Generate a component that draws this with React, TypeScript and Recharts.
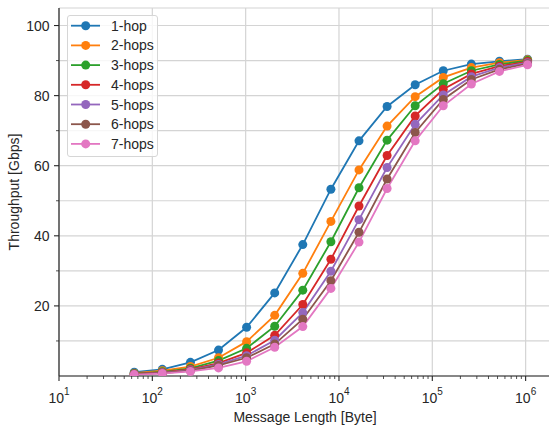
import React from 'react';
import { LineChart, Line, XAxis, YAxis, CartesianGrid, Legend, Label } from 'recharts';

const sizes = [64, 128, 256, 512, 1024, 2048, 4096, 8192, 16384, 32768, 65536, 131072, 262144, 524288, 1048576];
const hop1 = [1.1, 1.9, 3.9, 7.4, 13.9, 23.7, 37.5, 53.3, 67.1, 76.9, 83.1, 87.1, 89.0, 89.8, 90.4];
const hop2 = [0.8, 1.5, 2.7, 5.2, 9.8, 17.3, 29.3, 44.1, 58.8, 71.3, 79.7, 85.2, 88.0, 89.4, 90.2];
const hop3 = [0.7, 1.2, 2.2, 4.4, 7.9, 14.2, 24.5, 38.3, 53.7, 67.3, 77.1, 83.4, 87.1, 88.9, 90.0];
const hop4 = [0.6, 1.0, 1.9, 3.7, 6.6, 11.6, 20.4, 33.3, 48.5, 62.9, 74.2, 81.8, 86.2, 88.4, 89.7];
const hop5 = [0.5, 0.9, 1.7, 3.3, 5.8, 10.2, 18.1, 29.9, 44.6, 59.5, 71.8, 80.2, 85.4, 88.0, 89.4];
const hop6 = [0.5, 0.8, 1.5, 3.0, 5.2, 9.1, 16.2, 27.2, 41.0, 56.2, 69.5, 78.9, 84.6, 87.5, 89.1];
const hop7 = [0.4, 0.7, 1.3, 2.3, 4.2, 8.2, 14.1, 25.0, 38.2, 53.5, 67.1, 77.1, 83.3, 86.9, 88.8];

const seriesNames = ['1-hop', '2-hops', '3-hops', '4-hops', '5-hops', '6-hops', '7-hops'];
const seriesKeys = ['h1', 'h2', 'h3', 'h4', 'h5', 'h6', 'h7'];
const seriesValues = [hop1, hop2, hop3, hop4, hop5, hop6, hop7];
const colors = ['#1f77b4', '#ff7f0e', '#2ca02c', '#d62728', '#9467bd', '#8c564b', '#e377c2'];

const xMajorTicks = [10, 100, 1000, 10000, 100000, 1000000];
const xMinorMultipliers = [2, 3, 4, 5, 6, 7, 8, 9];
const xMinorTicks = xMajorTicks.slice(0, 5).flatMap((d) => xMinorMultipliers.map((m) => d * m));
const xAllTicks = [...xMajorTicks, ...xMinorTicks].sort((a, b) => a - b);
const xDomain = [10, 1780000];

const yTicks = [10, 20, 30, 40, 50, 60, 70, 80, 90, 100];
const yLabelTicks = [20, 40, 60, 80, 100];
const yDomain = [0, 105];

const xLabel = 'Message Length [Byte]';
const yLabel = 'Throughput [Gbps]';

const data = sizes.map((s, i) => {
  const row: any = { size: s };
  seriesKeys.forEach((k, j) => {
    row[k] = seriesValues[j][i];
  });
  return row;
});

const FONT = '"Liberation Sans", Arial, Helvetica, sans-serif';
const INK = '#262626';
const FS = 14;

const XTick = (props: any) => {
  const { x, y, payload } = props;
  const v = payload.value;
  const lg = Math.log10(v);
  const exp = Math.round(lg);
  const major = Math.abs(lg - exp) < 1e-9;
  return (
    <g>
      <line x1={x} x2={x} y1={y} y2={y + (major ? 5 : 3)} stroke={INK} strokeWidth={major ? 1.1 : 0.8} />
      {major && (
        <text x={x} y={y + 27} textAnchor="middle" fontSize={FS} fill={INK} fontFamily={FONT}>
          <tspan>10</tspan>
          <tspan dy={-8.5} fontSize={10}>{exp}</tspan>
        </text>
      )}
    </g>
  );
};

const YTick = (props: any) => {
  const { x, y, payload } = props;
  const v = payload.value;
  const major = yLabelTicks.includes(v);
  return (
    <g>
      <line x1={x - (major ? 5 : 3)} x2={x} y1={y} y2={y} stroke={INK} strokeWidth={major ? 1.1 : 0.8} />
      {major && (
        <text x={x - 9.5} y={y} dy="0.36em" textAnchor="end" fontSize={FS} fill={INK} fontFamily={FONT}>
          {v}
        </text>
      )}
    </g>
  );
};

const renderLegend = (props: any) => {
  const payload = props.payload || [];
  return (
    <div
      style={{
        width: 91,
        height: 142,
        boxSizing: 'border-box',
        border: '1px solid #d6d6d6',
        borderRadius: 3,
        background: 'rgba(255,255,255,0.8)',
      }}
    >
      <svg width={89} height={140} style={{ display: 'block' }}>
        {payload.map((p: any, i: number) => {
          const cy = 9.7 + i * 19.7;
          return (
            <g key={i}>
              <line x1={3} x2={32} y1={cy} y2={cy} stroke={p.color} strokeWidth={1.8} />
              <circle cx={17.7} cy={cy} r={4.5} fill={p.color} />
              <text x={43} y={cy} dy="0.36em" fontSize={FS} fill={INK} fontFamily={FONT}>
                {p.value}
              </text>
            </g>
          );
        })}
      </svg>
    </div>
  );
};

export default function App() {
  return (
    <div style={{ position: 'absolute', left: 0, top: 0, background: '#fff' }}>
      <LineChart width={551} height={426} data={data} margin={{ top: 8, right: 2, bottom: 0, left: 0 }}>
        <CartesianGrid stroke="#d4d4d4" strokeWidth={1.2} verticalValues={xMajorTicks} />
        <XAxis
          dataKey="size"
          type="number"
          scale="log"
          domain={xDomain}
          allowDataOverflow
          ticks={xAllTicks}
          interval={0}
          tick={<XTick />}
          tickLine={false}
          tickSize={0}
          tickMargin={0}
          height={50}
          axisLine={{ stroke: INK, strokeWidth: 1.2 }}
        >
          <Label
            content={() => (
              <text x={305} y={422} textAnchor="middle" fontSize={FS} fill={INK} fontFamily={FONT}>
                {xLabel}
              </text>
            )}
          />
        </XAxis>
        <XAxis
          xAxisId="top"
          orientation="top"
          dataKey="size"
          type="number"
          scale="log"
          domain={xDomain}
          allowDataOverflow
          height={0}
          tick={false}
          tickLine={false}
          axisLine={{ stroke: INK, strokeWidth: 1.2 }}
        />
        <YAxis
          type="number"
          domain={yDomain}
          allowDataOverflow
          ticks={yTicks}
          interval={0}
          tick={<YTick />}
          tickLine={false}
          tickSize={0}
          tickMargin={0}
          width={59}
          axisLine={{ stroke: INK, strokeWidth: 1.2 }}
        >
          <Label
            content={() => (
              <text
                x={18.5}
                y={192}
                transform="rotate(-90 18.5 192)"
                textAnchor="middle"
                fontSize={FS}
                fill={INK}
                fontFamily={FONT}
              >
                {yLabel}
              </text>
            )}
          />
        </YAxis>
        <YAxis
          yAxisId="right"
          orientation="right"
          type="number"
          domain={yDomain}
          allowDataOverflow
          width={0}
          tick={false}
          tickLine={false}
          axisLine={{ stroke: INK, strokeWidth: 1.2 }}
        />
        <Legend
          layout="horizontal"
          verticalAlign="middle"
          align="center"
          wrapperStyle={{ left: 67, top: 15, width: 91, height: 142 }}
          content={renderLegend}
        />
        {seriesKeys.map((k, j) => (
          <Line
            key={k}
            dataKey={k}
            name={seriesNames[j]}
            stroke={colors[j]}
            strokeWidth={1.8}
            dot={{ r: 4.5, fill: colors[j], stroke: colors[j], strokeWidth: 0 }}
            activeDot={false}
            isAnimationActive={false}
          />
        ))}
      </LineChart>
    </div>
  );
}
